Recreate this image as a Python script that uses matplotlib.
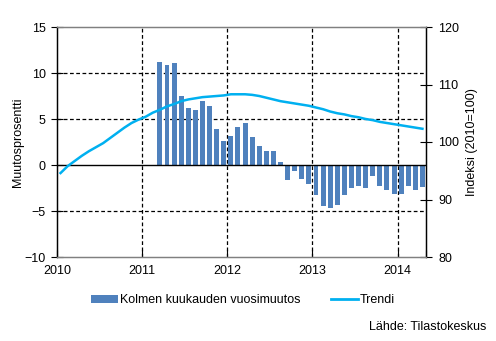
import matplotlib
matplotlib.use("Agg")
import matplotlib.pyplot as plt
from matplotlib.patches import Patch
from matplotlib.lines import Line2D
import numpy as np

plt.rcParams['font.family'] = ['Liberation Sans', 'DejaVu Sans']

# Monthly series; trend starts January 2010, change series starts March 2011
years = ["2010", "2011", "2012", "2013", "2014"]
trend_start_month = 0      # months after Jan 2010
bars_start_month = 14      # March 2011
n_months = 52              # Jan 2010 .. Apr 2014

change_pct = [11.2, 10.9, 11.1, 7.5, 6.2, 6.0, 7.0, 6.4, 3.9, 2.6, 3.2, 4.1,
              4.6, 3.0, 2.1, 1.5, 1.5, 0.3,
              -1.6, -0.7, -1.5, -2.1, -3.3, -4.5, -4.7, -4.4, -3.3, -2.5,
              -2.3, -2.5, -1.2, -2.3, -2.7, -3.2, -3.1, -2.3, -2.7, -2.4]

trend_index = [94.6, 95.8, 96.7, 97.6, 98.4, 99.1, 99.8, 100.7, 101.6, 102.5,
               103.3, 103.9, 104.4, 105.1, 105.6, 106.2, 106.6, 107.1, 107.4,
               107.6, 107.8, 107.9, 108.0, 108.1, 108.3, 108.3, 108.3, 108.2,
               108.0, 107.7, 107.4, 107.1, 106.9, 106.7, 106.5, 106.3, 106.0,
               105.7, 105.3, 105.0, 104.8, 104.5, 104.3, 104.0, 103.8, 103.5,
               103.3, 103.1, 102.9, 102.7, 102.5, 102.3]

bar_color = "#4F81BD"
line_color = "#00B0F0"

fig = plt.figure(figsize=(4.96, 3.41), dpi=100)
ax = fig.add_axes([57/496, 1-257/341, (426-57)/496, (257-27)/341])
ax2 = ax.twinx()

bar_x = np.arange(len(change_pct)) + bars_start_month + 0.5
ax.bar(bar_x, change_pct, width=0.7, color=bar_color, zorder=3)

trend_x = np.arange(len(trend_index)) + trend_start_month + 0.5
ax2.plot(trend_x, trend_index, color=line_color, lw=1.8, zorder=4)

ax.set_xlim(0, n_months)
ax.set_ylim(-10, 15)
ax2.set_ylim(80, 120)
ax.set_yticks([-10, -5, 0, 5, 10, 15])
ax2.set_yticks([80, 90, 100, 110, 120])

# grid
for yv in [-5, 5, 10]:
    ax.axhline(yv, color="black", lw=0.9, ls=(0, (3, 2)), zorder=1)
for xv in [12, 24, 36, 48]:
    ax.axvline(xv, color="black", lw=0.9, ls=(0, (3, 2)), zorder=1)
ax.axhline(0, color="black", lw=1.0, zorder=5)

year_pos = [0, 12, 24, 36, 48]
ax.set_xticks(year_pos + [n_months])
ax.set_xticklabels(years + [""])
ax.tick_params(axis='x', direction='in', length=5, width=0.8, pad=6,
               labelsize=9, color="black")
ax.tick_params(axis='y', direction='inout', length=8, width=0.8, pad=4,
               labelsize=9)
ax2.tick_params(axis='y', direction='inout', length=8, width=0.8, pad=5,
                labelsize=9)

for a in (ax, ax2):
    a.spines['top'].set_color("#808080")
    a.spines['bottom'].set_color("#808080")
    a.spines['left'].set_color("black")
    a.spines['right'].set_color("black")
    for s in a.spines.values():
        s.set_linewidth(0.9)

ax.set_ylabel("Muutosprosentti", fontsize=9, va="center")
ax.yaxis.set_label_coords((18 - 57) / 369, 0.5)
ax2.set_ylabel("Indeksi (2010=100)", fontsize=9, va="center")
ax2.yaxis.set_label_coords((472 - 57) / 369, 0.5)

handles = [Patch(facecolor=bar_color, edgecolor='none'),
           Line2D([0], [0], color=line_color, lw=2)]
fig.legend(handles, ["Kolmen kuukauden vuosimuutos", "Trendi"],
           loc="center", bbox_to_anchor=(243/496, 1-300/341), ncol=2,
           frameon=False, fontsize=9, handlelength=2.15, handleheight=0.6,
           handletextpad=0.15, columnspacing=2.4,
           borderpad=0, borderaxespad=0)

fig.text(486/496, 1-327/341, "Lähde: Tilastokeskus", ha="right", va="center",
         fontsize=9)

fig.savefig("out.png", dpi=100)
